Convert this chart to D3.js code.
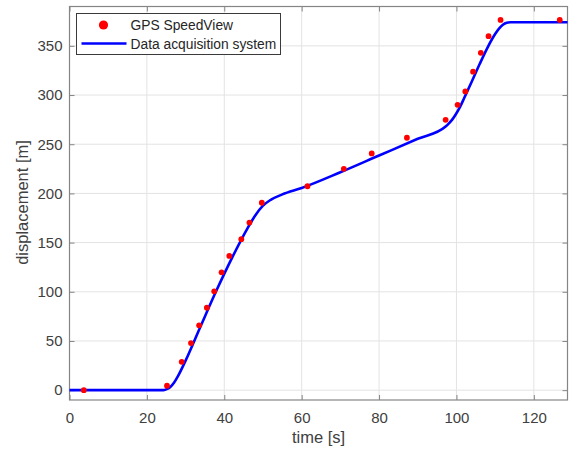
<!DOCTYPE html>
<html>
<head>
<meta charset="utf-8">
<script src="https://cdn.jsdelivr.net/npm/d3@7/dist/d3.min.js"></script>
<style>
  html, body { margin: 0; padding: 0; background: #fff; }
  svg { display: block; font-family: "Liberation Sans", Arial, sans-serif; }
</style>
</head>
<body>
<svg id="chart" width="569" height="451"></svg>
<script>
// GPS SpeedView fixes: time [s] and displacement [m]
const gpsTime = [3.7, 25.2, 29.0, 31.4, 33.5, 35.5, 37.4, 39.3, 41.3, 44.4, 46.5, 49.7,
                 61.5, 70.9, 78.1, 87.2, 97.2, 100.3, 102.3, 104.3, 106.3, 108.3, 111.4, 126.7];
const gpsDisp = [0, 4.5, 28.8, 47.9, 65.9, 83.8, 100.5, 119.8, 136.5, 153.5, 170.4, 190.5,
                 207.3, 225, 240.6, 256.6, 274.8, 290.1, 303.7, 323.7, 342.9, 359.8, 376.4, 376.4];

// Data acquisition system trace
const daqTime = [0, 24.2, 25, 26, 27, 28, 30, 34, 38, 42, 46, 48, 50, 52, 55, 60,
                 70, 80, 90, 97.2, 98, 99, 100, 101, 102, 104, 106, 108, 110, 111, 112, 113, 114, 128.7];
const daqDisp = [0, 0, 0.8, 3, 7.5, 14, 30, 66, 101.5, 134.5, 164.5, 177.5, 187.5, 193.5, 199, 205.5,
                 221.5, 238.5, 255.5, 268, 271, 275.5, 281.5, 288.5, 297, 314, 331.5, 348, 362, 367.5, 371.5, 373.5, 374, 374];

const xTicks = [0, 20, 40, 60, 80, 100, 120];
const yTicks = [0, 50, 100, 150, 200, 250, 300, 350];
const xDomain = [0, 128.7];
const yDomain = [-10, 390];

const legendLabels = ["GPS SpeedView", "Data acquisition system"];
const xLabel = "time [s]";
const yLabel = "displacement [m]";

const svg = d3.select("#chart");
const plot = { left: 69.5, right: 567.5, top: 6.5, bottom: 400 };

const x = d3.scaleLinear().domain(xDomain).range([plot.left, plot.right]);
const y = d3.scaleLinear().domain(yDomain).range([plot.bottom, plot.top]);

const axisColor = "#858585";
const labelColor = "#404040";

// grid
const grid = svg.append("g");
grid.selectAll("line.gx").data(xTicks.filter(t => t > xDomain[0])).join("line")
  .attr("x1", d => x(d)).attr("x2", d => x(d))
  .attr("y1", plot.top).attr("y2", plot.bottom)
  .attr("stroke", "#e3e3e3").attr("stroke-width", 1);
grid.selectAll("line.gy").data(yTicks).join("line")
  .attr("y1", d => y(d)).attr("y2", d => y(d))
  .attr("x1", plot.left).attr("x2", plot.right)
  .attr("stroke", "#e3e3e3").attr("stroke-width", 1);

// axes (ticks inward, box on)
const tickLen = 5;
const xAxis = d3.axisBottom(x).tickValues(xTicks).tickSizeInner(-tickLen).tickSizeOuter(0).tickPadding(12);
const yAxis = d3.axisLeft(y).tickValues(yTicks).tickSizeInner(-tickLen).tickSizeOuter(0).tickPadding(7);
const xTop = d3.axisTop(x).tickValues(xTicks).tickSizeInner(-tickLen).tickSizeOuter(0).tickFormat("");
const yRight = d3.axisRight(y).tickValues(yTicks).tickSizeInner(-tickLen).tickSizeOuter(0).tickFormat("");

function styleAxis(g) {
  g.select(".domain").remove();
  g.selectAll(".tick line").attr("stroke", axisColor);
  g.selectAll(".tick text").attr("fill", labelColor).attr("font-size", 15)
    .attr("font-family", "'Liberation Sans', Arial, sans-serif");
}

svg.append("g").attr("transform", `translate(0,${plot.bottom})`).call(xAxis).call(styleAxis);
svg.append("g").attr("transform", `translate(${plot.left},0)`).call(yAxis).call(styleAxis);
svg.append("g").attr("transform", `translate(0,${plot.top})`).call(xTop).call(styleAxis);
svg.append("g").attr("transform", `translate(${plot.right},0)`).call(yRight).call(styleAxis);

svg.append("rect")
  .attr("x", plot.left).attr("y", plot.top)
  .attr("width", plot.right - plot.left).attr("height", plot.bottom - plot.top)
  .attr("fill", "none").attr("stroke", axisColor).attr("stroke-width", 1.2);

// data acquisition trace
const daq = daqTime.map((t, i) => [t, daqDisp[i]]);
const line = d3.line().x(d => x(d[0])).y(d => y(d[1])).curve(d3.curveMonotoneX);
svg.append("path").datum(daq)
  .attr("d", line)
  .attr("fill", "none").attr("stroke", "#0000ff").attr("stroke-width", 2.6)
  .attr("stroke-linejoin", "round");

// GPS points
const gps = gpsTime.map((t, i) => [t, gpsDisp[i]]);
svg.append("g").selectAll("circle").data(gps).join("circle")
  .attr("cx", d => x(d[0])).attr("cy", d => y(d[1]))
  .attr("r", 2.9).attr("fill", "#ff0000");

// axis labels
svg.append("text")
  .attr("x", 318.5).attr("y", 443)
  .attr("text-anchor", "middle").attr("fill", labelColor).attr("font-size", 16.5)
  .text(xLabel);
svg.append("text")
  .attr("transform", `translate(27.5,202.5) rotate(-90)`)
  .attr("text-anchor", "middle").attr("fill", labelColor).attr("font-size", 16.5)
  .text(yLabel);

// legend
const legend = svg.append("g");
legend.append("rect")
  .attr("x", 76.5).attr("y", 13.5).attr("width", 204).attr("height", 41)
  .attr("fill", "#fff").attr("stroke", "#3a3a3a").attr("stroke-width", 1);
legend.append("circle").attr("cx", 103.5).attr("cy", 25).attr("r", 4.6).attr("fill", "#ff0000");
legend.append("line").attr("x1", 81.5).attr("x2", 126.5).attr("y1", 43.5).attr("y2", 43.5)
  .attr("stroke", "#0000ff").attr("stroke-width", 2.6);
legend.selectAll("text.lg").data(legendLabels).join("text")
  .attr("x", 130.5).attr("y", (d, i) => i === 0 ? 30 : 48.5)
  .attr("fill", "#262626").attr("font-size", 13.8)
  .text(d => d);
</script>
</body>
</html>
